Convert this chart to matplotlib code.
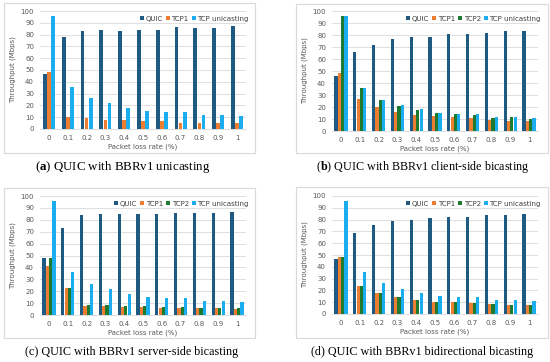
import numpy as np
import matplotlib
matplotlib.use("Agg")
import matplotlib.pyplot as plt
from matplotlib.patches import Rectangle

plt.rcParams["mathtext.fontset"] = "custom"
plt.rcParams["mathtext.bf"] = "Liberation Serif:bold"
plt.rcParams["mathtext.rm"] = "Liberation Serif"

loss = ["0", "0.1", "0.2", "0.3", "0.4", "0.5", "0.6", "0.7", "0.8", "0.9", "1"]

# (a) unicasting
a_quic = [46.5, 78, 83, 84, 83, 84, 83.5, 86.5, 86, 86, 87]
a_tcp1 = [48, 10.5, 9, 8, 7.5, 7, 6.5, 5.5, 5.5, 5.5, 5]
a_uni = [95.5, 36, 26.5, 22, 18, 15.5, 14.5, 14, 12, 12, 11]

# (b) client-side bicasting
b_quic = [46, 65.5, 72, 76.5, 78, 78.5, 81, 81, 81.5, 83, 83.5]
b_tcp1 = [48, 26.5, 20, 16, 13, 12.5, 11.5, 10.5, 9.5, 8.5, 8.5]
b_tcp2 = [95.5, 35.5, 25.5, 20.5, 17.5, 15, 14, 13.5, 11, 11.5, 10]
b_uni = [95.5, 36, 26, 21.5, 18, 15, 14, 14, 12, 12, 11]

# (c) server-side bicasting
c_quic = [48, 73, 84, 84.5, 85, 84.5, 85, 85.5, 86, 86, 86.5]
c_tcp1 = [41, 22.5, 7.5, 7.5, 6.5, 7, 6, 6, 5.5, 5.5, 5]
c_tcp2 = [47.5, 23, 8.5, 8, 7.5, 7.5, 7, 6.5, 6, 6, 5.5]
c_uni = [95.5, 36, 26, 21.5, 18, 15.5, 14, 14, 12, 12, 11]

# (d) bidirectional bicasting
d_quic = [46.5, 69, 75.5, 78.5, 80, 81, 82, 82.5, 83.5, 84, 84.5]
d_tcp1 = [48, 23.5, 17.5, 14.5, 11.5, 10.5, 10, 9.5, 8.5, 8, 8]
d_tcp2 = [48, 23.5, 17.5, 14.5, 11.5, 10.5, 10, 9.5, 8.5, 8, 8]
d_uni = [95.5, 36, 26, 21.5, 18, 15.5, 14, 14, 12, 12, 11]

COL = {"QUIC": "#1F5A82", "TCP1": "#ED7D31", "TCP2": "#1E7A30", "TCP unicasting": "#1AAEEF"}
W, H = 550, 362


def px_axes(fig, x0, x1, ytop, ybot):
    return fig.add_axes([x0 / W, 1 - ybot / H, (x1 - x0) / W, (ybot - ytop) / H])


def frame(fig, x0, y0, x1, y1):
    fig.patches.append(Rectangle((x0 / W, 1 - y1 / H), (x1 - x0) / W, (y1 - y0) / H,
                                 transform=fig.transFigure, fill=False,
                                 edgecolor="#d9d9d9", lw=0.8))


def panel(ax, series):
    x = np.arange(len(loss))
    n = len(series)
    if n == 3:
        bw, step = 0.2, 0.22
    else:
        bw, step = 0.17, 0.18
    for i, (name, vals) in enumerate(series):
        off = (i - (n - 1) / 2) * step
        ax.bar(x + off, vals, bw, color=COL[name], label=name, zorder=3)
    ax.set_xlim(-0.5, len(loss) - 0.5)
    ax.set_ylim(0, 100)
    ax.set_yticks(range(0, 101, 10))
    ax.set_xticks(x)
    ax.set_xticklabels(loss)
    ax.grid(axis="y", color="#d9d9d9", lw=0.6, zorder=0)
    for s in ["top", "right", "left"]:
        ax.spines[s].set_visible(False)
    ax.spines["bottom"].set_color("#d9d9d9")
    ax.spines["bottom"].set_linewidth(0.6)
    ax.tick_params(length=0, labelsize=5, colors="#595959", pad=4)
    ax.set_ylabel("Throughput (Mbps)", fontsize=5, color="#595959", labelpad=3)
    ax.set_xlabel("Packet loss rate (%)", fontsize=5, color="#595959", labelpad=2)
    ax.legend(loc="upper right", bbox_to_anchor=(1.035, 1.0), ncol=n, frameon=False,
              fontsize=5, handlelength=0.55, handleheight=0.55, handletextpad=0.25,
              columnspacing=0.45, borderaxespad=0.3, labelcolor="#404040")


fig = plt.figure(figsize=(5.5, 3.62), dpi=100)

frame(fig, 4, 3, 255, 153)
frame(fig, 296, 4, 548, 153)
frame(fig, 4, 188, 255, 338)
frame(fig, 296, 187, 548, 338)

ax1 = px_axes(fig, 39.6, 246.4, 11, 129)
panel(ax1, [("QUIC", a_quic), ("TCP1", a_tcp1), ("TCP unicasting", a_uni)])
ax2 = px_axes(fig, 331.6, 538.4, 11, 131)
panel(ax2, [("QUIC", b_quic), ("TCP1", b_tcp1), ("TCP2", b_tcp2), ("TCP unicasting", b_uni)])
ax3 = px_axes(fig, 39.6, 246.4, 196, 315)
panel(ax3, [("QUIC", c_quic), ("TCP1", c_tcp1), ("TCP2", c_tcp2), ("TCP unicasting", c_uni)])
ax4 = px_axes(fig, 331.6, 538.4, 196, 314)
panel(ax4, [("QUIC", d_quic), ("TCP1", d_tcp1), ("TCP2", d_tcp2), ("TCP unicasting", d_uni)])

caps = [(123, 167, r"($\mathbf{a}$) QUIC with BBRv1 unicasting", 9.3),
        (423, 167, r"($\mathbf{b}$) QUIC with BBRv1 client-side bicasting", 8.7),
        (132, 352, "(c) QUIC with BBRv1 server-side bicasting", 8.7),
        (422, 352, "(d) QUIC with BBRv1 bidirectional bicasting", 8.7)]
for cx, cy, txt, fs in caps:
    fig.text(cx / W, 1 - cy / H, txt, ha="center", va="center",
             fontsize=fs, family="Liberation Serif")

fig.savefig("out.png", dpi=100)
